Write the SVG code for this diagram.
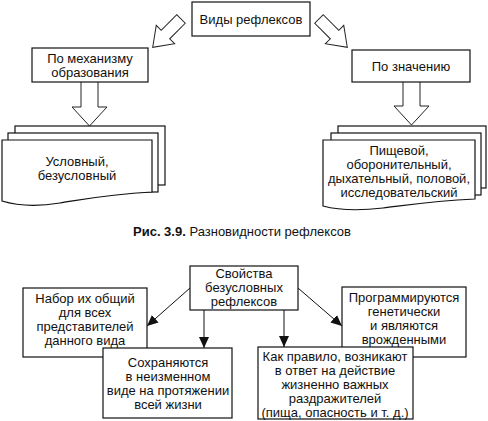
<svg xmlns="http://www.w3.org/2000/svg" width="488" height="421" viewBox="0 0 488 421">
<defs>
<style>
text{font-family:"Liberation Sans",Arial,sans-serif;font-size:13px;fill:#111;text-anchor:middle}
.box{fill:#fff;stroke:#111;stroke-width:1.2}
.page{fill:#fff;stroke:#111;stroke-width:1.2}
.barrow{fill:#fff;stroke:#222;stroke-width:1}
.conn{stroke:#111;stroke-width:1;fill:none}
.cap{text-anchor:start}
</style>
<marker id="ah" markerUnits="userSpaceOnUse" markerWidth="12" markerHeight="12" viewBox="0 0 12 12" refX="11" refY="6" orient="auto">
<path d="M0,1 L11,6 L0,11 Z" fill="#111"/>
</marker>
</defs>

<g id="vidy">
<rect class="box" x="192" y="2" width="118" height="34"/>
<text x="251" y="24">Виды рефлексов</text>
</g>

<g id="connectors-top">
<path class="barrow" transform="translate(181,19) rotate(135)" d="M0,-6 H22 V-13 L40,0 L22,13 V6 H0 Z"/>
<path class="barrow" transform="translate(319,19) rotate(45)" d="M0,-6 H22 V-13 L40,0 L22,13 V6 H0 Z"/>
<path class="barrow" d="M81,82 V107 H72 L89.5,126 L107,107 H98 V82"/>
<path class="barrow" d="M403,82 V106 H394 L411.5,125 L429,106 H420 V82"/>
</g>

<g id="mech">
<rect class="box" x="32" y="48" width="116" height="34"/>
<text x="90" y="63">По механизму</text>
<text x="90" y="77">образования</text>
</g>

<g id="znach">
<rect class="box" x="352" y="50" width="118" height="32"/>
<text x="411" y="71">По значению</text>
</g>

<g id="pages-left">
<rect class="page" x="15" y="126" width="150" height="59"/>
<rect class="page" x="8" y="133" width="150" height="59"/>
<path class="page" d="M2,140 H152 V192 C110,194 85,199 60,203 C35,207 15,205 2,201 Z"/>
<text x="77" y="166">Условный,</text>
<text x="77" y="180">безусловный</text>
</g>

<g id="pages-right">
<rect class="page" x="338" y="126" width="148" height="62"/>
<rect class="page" x="331" y="133" width="150" height="62"/>
<path class="page" d="M323,140 H475 V199 C433,201 408,205 383,208 C358,211 338,210 323,206 Z"/>
<text x="399" y="155">Пищевой,</text>
<text x="399" y="169">оборонительный,</text>
<text x="399" y="183">дыхательный, половой,</text>
<text x="399" y="197">исследовательский</text>
</g>

<g id="caption">
<text class="cap" x="133" y="236"><tspan font-weight="bold">Рис. 3.9.</tspan> Разновидности рефлексов</text>
</g>

<g id="nabor">
<rect class="box" x="23" y="288" width="124" height="69"/>
<text x="85" y="303">Набор их общий</text>
<text x="85" y="317">для всех</text>
<text x="85" y="331">представителей</text>
<text x="85" y="345">данного вида</text>
</g>

<g id="program">
<rect class="box" x="342" y="287" width="124" height="70"/>
<text x="404" y="302">Программируются</text>
<text x="404" y="316">генетически</text>
<text x="404" y="330">и являются</text>
<text x="404" y="344">врожденными</text>
</g>

<g id="svoistva">
<rect class="box" x="190" y="266" width="108" height="44"/>
<text x="244" y="278">Свойства</text>
<text x="244" y="292">безусловных</text>
<text x="244" y="306">рефлексов</text>
</g>

<g id="sohran">
<rect class="box" x="103" y="348" width="129" height="70"/>
<text x="168" y="367">Сохраняются</text>
<text x="168" y="381">в неизменном</text>
<text x="168" y="395">виде на протяжении</text>
<text x="168" y="409">всей жизни</text>
</g>

<g id="kak">
<rect class="box" x="258" y="347" width="155" height="72"/>
<text x="335" y="360.5">Как правило, возникают</text>
<text x="335" y="374.5">в ответ на действие</text>
<text x="335" y="388.5">жизненно важных</text>
<text x="335" y="402.5">раздражителей</text>
<text x="335" y="416.5">(пища, опасность и т. д.)</text>
</g>

<g id="connectors">
<line class="conn" x1="190" y1="288" x2="147" y2="326" marker-end="url(#ah)"/>
<line class="conn" x1="204" y1="310" x2="204" y2="348" marker-end="url(#ah)"/>
<line class="conn" x1="284" y1="310" x2="284" y2="347" marker-end="url(#ah)"/>
<line class="conn" x1="298" y1="288" x2="342" y2="326" marker-end="url(#ah)"/>
</g>
</svg>
